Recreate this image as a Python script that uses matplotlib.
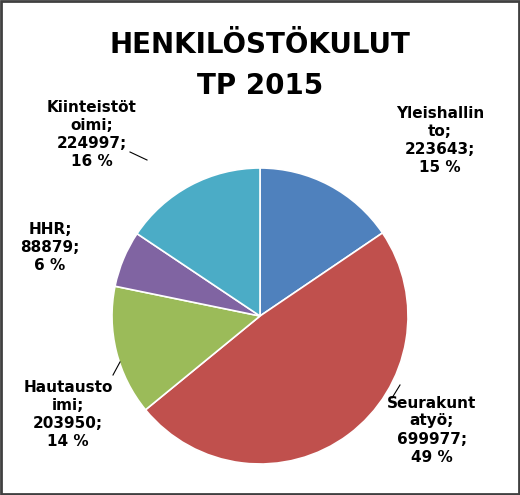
import matplotlib
matplotlib.use('Agg')
import matplotlib.pyplot as plt

labels = ["Yleishallin\nto;", "Seurakunt\natyö;", "Hautausto\nimi;", "HHR;", "Kiinteistöt\noimi;"]
values = [223643, 699977, 203950, 88879, 224997]
percents = [15, 49, 14, 6, 16]
colors = ['#4F81BD', '#C0504D', '#9BBB59', '#8064A2', '#4BACC6']

fig = plt.figure(figsize=(5.2, 4.95), dpi=100)
ax = fig.add_axes([0, 0, 1, 1])
ax.set_xlim(0, 520)
ax.set_ylim(0, 495)
ax.set_aspect('equal')
ax.axis('off')

ax.pie(values, colors=colors, startangle=90, counterclock=False,
       center=(260, 495 - 316), radius=148, frame=True,
       wedgeprops=dict(edgecolor='white', linewidth=1.2))
ax.axis('off')
ax.set_xlim(0, 520)
ax.set_ylim(0, 495)

ax.text(260, 495 - 45, "HENKILÖSTÖKULUT", ha='center', va='center',
        fontsize=20, fontweight='bold')
ax.text(260, 495 - 86, "TP 2015", ha='center', va='center',
        fontsize=20, fontweight='bold')

# label positions (pixel coords, from top)
pos = [(440, 140, 'center'), (432, 430, 'center'), (68, 415, 'center'),
       (50, 248, 'center'), (92, 135, 'center')]
for (x, y, ha), lab, v, p in zip(pos, labels, values, percents):
    ax.text(x, 495 - y, f"{lab}\n{v};\n{p} %", ha=ha, va='center',
            fontsize=11, fontweight='bold', linespacing=1.25)

# leader lines
lines = [((130, 152), (147, 160)), ((113, 375), (120, 362)),
         ((392, 398), (400, 385)), ((384, 142), (380, 160))]
for (x1, y1), (x2, y2) in lines[:3]:
    ax.plot([x1, x2], [495 - y1, 495 - y2], color='black', lw=0.8)

fig.patches.append(plt.Rectangle((0.002, 0.002), 0.996, 0.996, transform=fig.transFigure,
                                 fill=False, edgecolor='#404040', lw=2))
fig.savefig('out.png', dpi=100)
